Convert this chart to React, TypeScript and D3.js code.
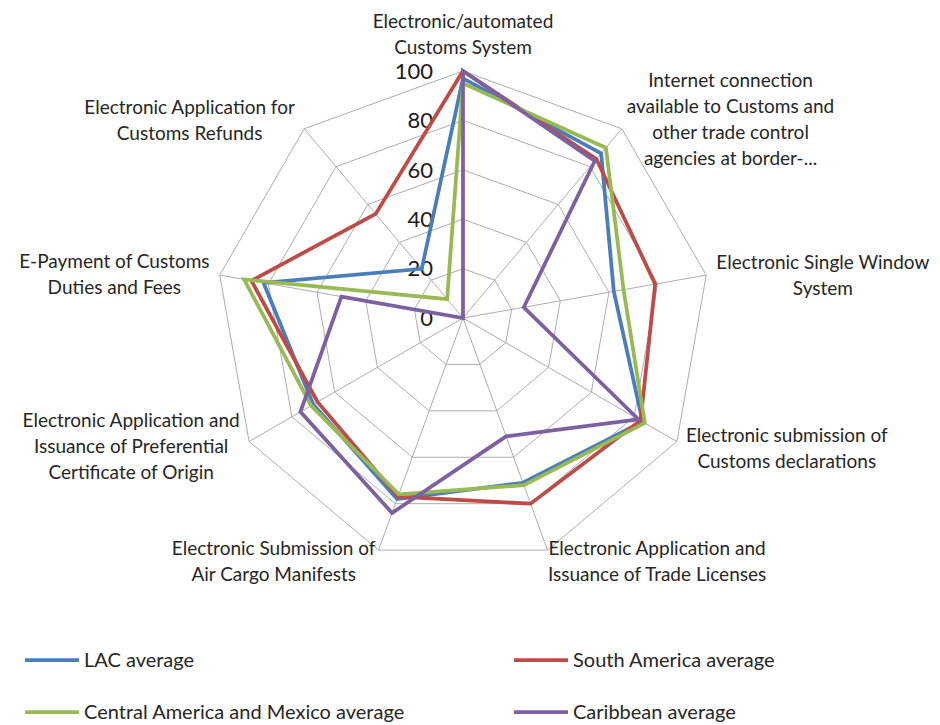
import React from 'react';
import * as d3 from 'd3';

// ---- Data ----
const categories: string[][] = [
  ['Electronic/automated', 'Customs System'],
  ['Internet connection', 'available to Customs and', 'other trade control', 'agencies at border-...'],
  ['Electronic Single Window', 'System'],
  ['Electronic submission of', 'Customs declarations'],
  ['Electronic Application and', 'Issuance of Trade Licenses'],
  ['Electronic Submission of', 'Air Cargo Manifests'],
  ['Electronic Application and', 'Issuance of Preferential', 'Certificate of Origin'],
  ['E-Payment of Customs', 'Duties and Fees'],
  ['Electronic Application for', 'Customs Refunds'],
];

const lacAverage = [97, 87, 62, 84, 71, 78, 70, 82, 26];
const southAmericaAverage = [100, 84, 79, 83, 80, 77, 68, 87, 55];
const centralAmericaMexicoAverage = [95, 90, 66, 85, 72, 76, 71, 90, 10];
const caribbeanAverage = [100, 83, 25, 82, 51, 84, 76, 50, 0];

const seriesNames = ['LAC average', 'South America average', 'Central America and Mexico average', 'Caribbean average'];
const tickValues = [0, 20, 40, 60, 80, 100];

// ---- Style / layout ----
const W = 940;
const H = 725;
const cx = 463;
const cy = 318;
const R = 247;
const colors = ['#4a7ebb', '#be4b48', '#98b954', '#7d60a0'];
const FONT = 'Lato, "Open Sans", sans-serif';
const labelSize = 19;
const lineH = 26;

// per-axis label placement: anchor side, horizontal gap, vertical offset of block center
const labelLayout = [
  { side: 'top', gap: 0, dy: -37 },
  { side: 'right', gap: 5, dy: -9 },
  { side: 'right', gap: 10, dy: 0 },
  { side: 'right', gap: 9, dy: 7 },
  { side: 'right', gap: 0, dy: 11 },
  { side: 'left', gap: 3, dy: 11 },
  { side: 'left', gap: 9, dy: 5 },
  { side: 'left', gap: 10, dy: -1 },
  { side: 'left', gap: 9, dy: -8 },
];

let measureCtx: CanvasRenderingContext2D | null = null;
function textWidth(t: string, size: number) {
  if (!measureCtx) measureCtx = document.createElement('canvas').getContext('2d');
  if (!measureCtx) return t.length * size * 0.5;
  measureCtx.font = `${size}px Lato`;
  return measureCtx.measureText(t).width;
}

export default function App() {
  const n = categories.length;
  const r = d3.scaleLinear().domain([0, 100]).range([0, R]);
  const angle = d3.scaleLinear().domain([0, n]).range([0, 2 * Math.PI]);
  const pt = (i: number, v: number): [number, number] => {
    const a = angle(i);
    return [cx + r(v) * Math.sin(a), cy - r(v) * Math.cos(a)];
  };

  const line = d3.line<[number, number]>().curve(d3.curveLinearClosed);
  const allSeries = [lacAverage, southAmericaAverage, centralAmericaMexicoAverage, caribbeanAverage];

  const rings = tickValues.filter((t) => t > 0);

  return (
    <svg width={W} height={H} style={{ position: 'absolute', left: 0, top: 0, background: '#fff' }}
      fontFamily={FONT}>
      <rect x={0} y={0} width={W} height={H} fill="#fff" />
      <g>
        {rings.map((t) => (
          <path key={t} d={line(d3.range(n).map((i) => pt(i, t))) || ''}
            fill="none" stroke="#adadad" strokeWidth={1} />
        ))}
        {d3.range(n).map((i) => {
          const [x, y] = pt(i, 100);
          return <line key={i} x1={cx} y1={cy} x2={x} y2={y} stroke="#adadad" strokeWidth={1} />;
        })}
      </g>
      <g>
        {tickValues.map((t) => (
          <text key={t} x={cx - 30} y={cy - r(t)} dy="0.35em" textAnchor="end" fontSize={22} fill="#1a1a1a">
            {t}
          </text>
        ))}
      </g>
      <g>
        {allSeries.map((s, k) => (
          <path key={k} d={line(s.map((v, i) => pt(i, v))) || ''}
            fill="none" stroke={colors[k]} strokeWidth={3.75} strokeLinejoin="miter" />
        ))}
      </g>
      <g>
        {categories.map((lines, i) => {
          const [vx, vy] = pt(i, 100);
          const L = labelLayout[i];
          const w = Math.max(...lines.map((l) => textWidth(l, labelSize)));
          let ccx = vx;
          if (L.side === 'right') ccx = vx + L.gap + w / 2;
          if (L.side === 'left') ccx = vx - L.gap - w / 2;
          const blockH = (lines.length - 1) * lineH;
          const ccy = vy + L.dy;
          const y0 = ccy - blockH / 2;
          return (
            <text key={i} textAnchor="middle" fontSize={labelSize} fill="#262626">
              {lines.map((l, j) => (
                <tspan key={j} x={ccx} y={y0 + j * lineH} dy="0.35em">{l}</tspan>
              ))}
            </text>
          );
        })}
      </g>
      <g fontSize={20} fill="#262626">
        {seriesNames.map((name, k) => {
          const col = k % 2;
          const row = Math.floor(k / 2);
          const x = col === 0 ? 25 : 514;
          const y = row === 0 ? 660 : 712;
          return (
            <g key={name}>
              <line x1={x} x2={x + 54} y1={y} y2={y} stroke={colors[k]} strokeWidth={3.75} />
              <text x={x + 59} y={y} dy="0.35em">{name}</text>
            </g>
          );
        })}
      </g>
    </svg>
  );
}
